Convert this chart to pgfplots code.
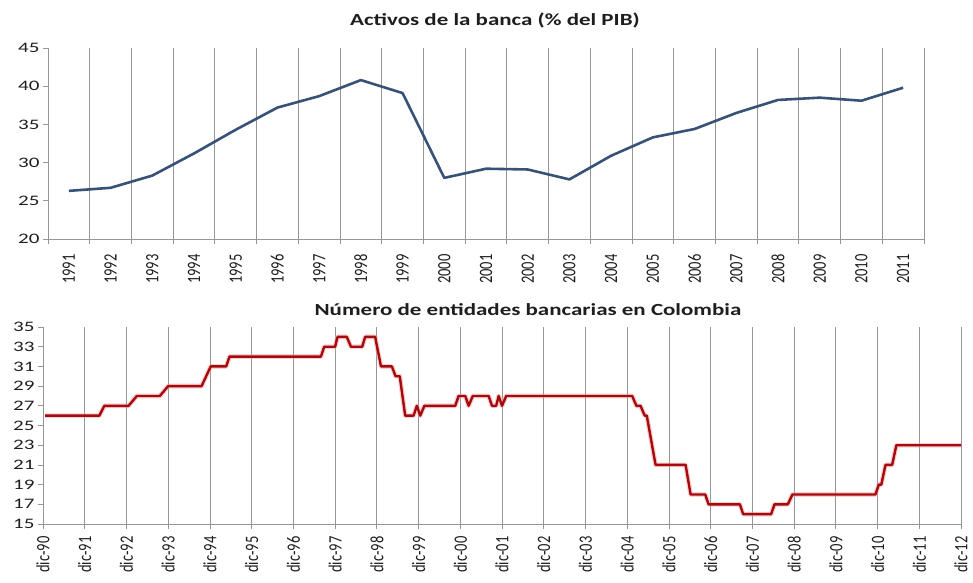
\documentclass[border=0pt]{standalone}
\usepackage{fontspec}
\setmainfont{Carlito}
\usepackage{graphicx}
\usepackage{pgfplots}
\usepackage{pgfplotstable}
\pgfplotsset{compat=1.18}
\definecolor{bluel}{RGB}{55,82,118}
\definecolor{redl}{RGB}{165,10,15}
\definecolor{redh}{RGB}{245,160,160}
\definecolor{gridc}{RGB}{150,150,150}
\definecolor{txt}{RGB}{30,30,30}
\newcommand\sx[1]{\scalebox{1.45}[1]{#1}}
\newcommand\sy[1]{\scalebox{1}[1.3]{#1}}
\newcommand\tfont{\fontsize{14.5}{16}\selectfont}
\newcommand\titfont{\fontsize{17}{20}\selectfont\bfseries}

\pgfplotstableread{
x y
1991 26.3
1992 26.7
1993 28.3
1994 31.2
1995 34.3
1996 37.2
1997 38.7
1998 40.8
1999 39.1
2000 28.0
2001 29.2
2002 29.1
2003 27.8
2004 30.9
2005 33.3
2006 34.4
2007 36.5
2008 38.2
2009 38.5
2010 38.1
2011 39.8
}\activos

\pgfplotstableread{
x y
0.05 26
1.35 26
1.47 27
2.05 27
2.25 28
2.80 28
3.00 29
3.80 29
4.02 31
4.39 31
4.47 32
6.66 32
6.74 33
7.00 33
7.06 34
7.28 34
7.38 33
7.65 33
7.72 34
7.96 34
8.10 31
8.36 31
8.45 30
8.55 30
8.68 26
8.88 26
8.96 27
9.04 26
9.14 27
9.88 27
9.96 28
10.12 28
10.20 27
10.30 28
10.68 28
10.76 27
10.86 27
10.92 28
11.00 27
11.10 28
14.12 28
14.22 27
14.32 27
14.42 26
14.47 26
14.68 21
15.40 21
15.52 18
15.87 18
15.95 17
16.70 17
16.78 16
17.45 16
17.53 17
17.85 17
17.96 18
19.95 18
20.03 19
20.09 19
20.19 21
20.35 21
20.45 23
22.00 23
}\entidades

\begin{document}
\begin{tikzpicture}[x=1pt,y=1pt]
\useasboundingbox (0,0) rectangle (973,582);
\pgfplotsset{
  every axis/.append style={
    scale only axis, anchor=south west,
    axis lines*=left,
    axis line style={gridc, line width=0.8pt},
    tick align=outside,
    major tick length=5pt, minor tick length=5pt,
    tick style={gridc, line width=0.8pt},
    ticklabel style={font=\tfont, text=txt},
    xticklabel style={rotate=90, anchor=east},
    clip=false,
  }
}
\begin{axis}[
  at={(48pt,343pt)}, width=876pt, height=191pt,
  xmin=-0.5, xmax=20.5, ymin=20, ymax=45,
  ytick={20,25,30,35,40,45},
  yticklabels={\sx{20},\sx{25},\sx{30},\sx{35},\sx{40},\sx{45}},
  xtick={0,...,20},
  xticklabels={\sy{1991},\sy{1992},\sy{1993},\sy{1994},\sy{1995},\sy{1996},\sy{1997},\sy{1998},\sy{1999},\sy{2000},\sy{2001},\sy{2002},\sy{2003},\sy{2004},\sy{2005},\sy{2006},\sy{2007},\sy{2008},\sy{2009},\sy{2010},\sy{2011}},
  xticklabel shift=7pt,
  major x tick style={draw=none},
  minor xtick={-0.5,0.5,...,20.5},
  xminorgrids=true,
  minor grid style={gridc, line width=0.8pt},
]
\addplot[bluel, line width=2.6pt, line join=round] table[x expr=\thisrow{x}-1991, y=y] {\activos};
\end{axis}
\node[txt] at (495pt,562pt) {\titfont\scalebox{1.35}[1]{Activos de la banca (\% del PIB)}};

\begin{axis}[
  at={(43pt,58pt)}, width=918pt, height=197pt,
  xmin=0, xmax=22, ymin=15, ymax=35,
  ytick={15,17,...,35},
  yticklabels={\sx{15},\sx{17},\sx{19},\sx{21},\sx{23},\sx{25},\sx{27},\sx{29},\sx{31},\sx{33},\sx{35}},
  xtick={0,...,22},
  xticklabels={\sy{dic-90},\sy{dic-91},\sy{dic-92},\sy{dic-93},\sy{dic-94},\sy{dic-95},\sy{dic-96},\sy{dic-97},\sy{dic-98},\sy{dic-99},\sy{dic-00},\sy{dic-01},\sy{dic-02},\sy{dic-03},\sy{dic-04},\sy{dic-05},\sy{dic-06},\sy{dic-07},\sy{dic-08},\sy{dic-09},\sy{dic-10},\sy{dic-11},\sy{dic-12}},
  xticklabel shift=4pt,
  xmajorgrids=true,
  major grid style={gridc, line width=0.8pt},
]
\addplot[redh, line width=4.8pt, opacity=0.5, line join=round] table {\entidades};
\addplot[redl, line width=2.4pt, line join=round] table {\entidades};
\end{axis}
\node[txt] at (528pt,272pt) {\titfont\scalebox{1.35}[1]{Número de entidades bancarias en Colombia}};
\end{tikzpicture}
\end{document}
